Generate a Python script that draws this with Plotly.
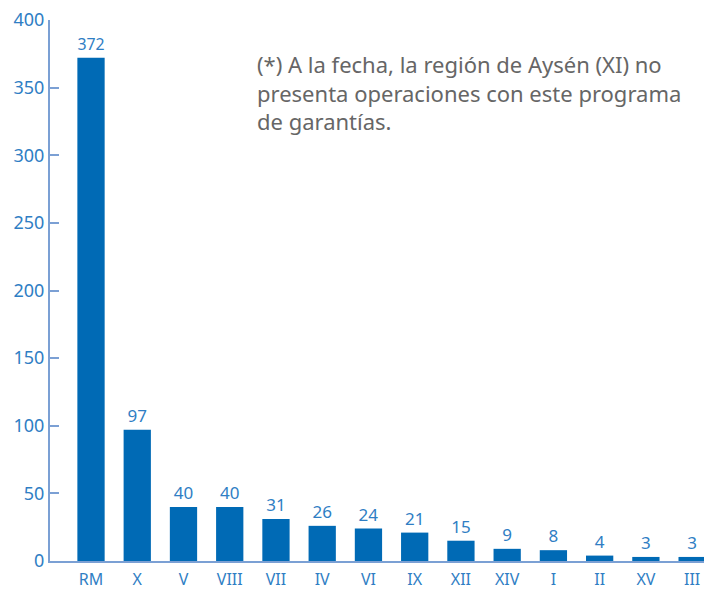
import plotly.graph_objects as go

regions = ["RM", "X", "V", "VIII", "VII", "IV", "VI", "IX", "XII", "XIV", "I", "II", "XV", "III"]
operations = [372, 97, 40, 40, 31, 26, 24, 21, 15, 9, 8, 4, 3, 3]
y_ticks = [0, 50, 100, 150, 200, 250, 300, 350, 400]

note = ("(*) A la fecha, la región de Aysén (XI) no<br>"
        "presenta operaciones con este programa<br>"
        "de garantías.")

bar_color = "#006ab5"
text_color = "#2f7ec4"
axis_color = "#7ba0d4"
font_family = "Noto Sans"

fig = go.Figure()

fig.add_trace(go.Bar(
    x=regions,
    y=operations,
    width=0.59,
    marker=dict(color=bar_color, line=dict(width=0)),
    text=operations,
    textposition="outside",
    cliponaxis=False,
    textfont=dict(color=text_color, size=17, family=font_family),
    hoverinfo="x+y",
))

fig.add_annotation(
    text=note,
    xref="paper", yref="paper",
    x=0.313, y=0.95,
    xanchor="left", yanchor="top",
    align="left",
    showarrow=False,
    font=dict(size=22, color="#666666", family=font_family),
)

# the page body has an 8px margin, so the figure is drawn 8px smaller
fig.update_layout(
    width=704,
    height=582,
    margin=dict(l=42, r=6, t=12, b=29),
    font=dict(family=font_family, color=text_color),
    plot_bgcolor="white",
    paper_bgcolor="white",
    showlegend=False,
    xaxis=dict(
        range=[-0.887, 13.3],
        automargin=False,
        showline=True,
        linecolor=axis_color,
        linewidth=2,
        ticks="",
        ticklabelstandoff=3,
        showgrid=False,
        tickfont=dict(color=text_color, size=16, family=font_family),
    ),
    yaxis=dict(
        range=[0, 400],
        automargin=False,
        tickvals=y_ticks,
        ticklabeloverflow="allow",
        showline=True,
        linecolor=axis_color,
        linewidth=2,
        ticks="inside",
        ticklen=9,
        tickwidth=2,
        tickcolor=axis_color,
        showgrid=False,
        zeroline=False,
        tickfont=dict(color=text_color, size=18, family=font_family),
    ),
)

fig.write_html("out.html")
